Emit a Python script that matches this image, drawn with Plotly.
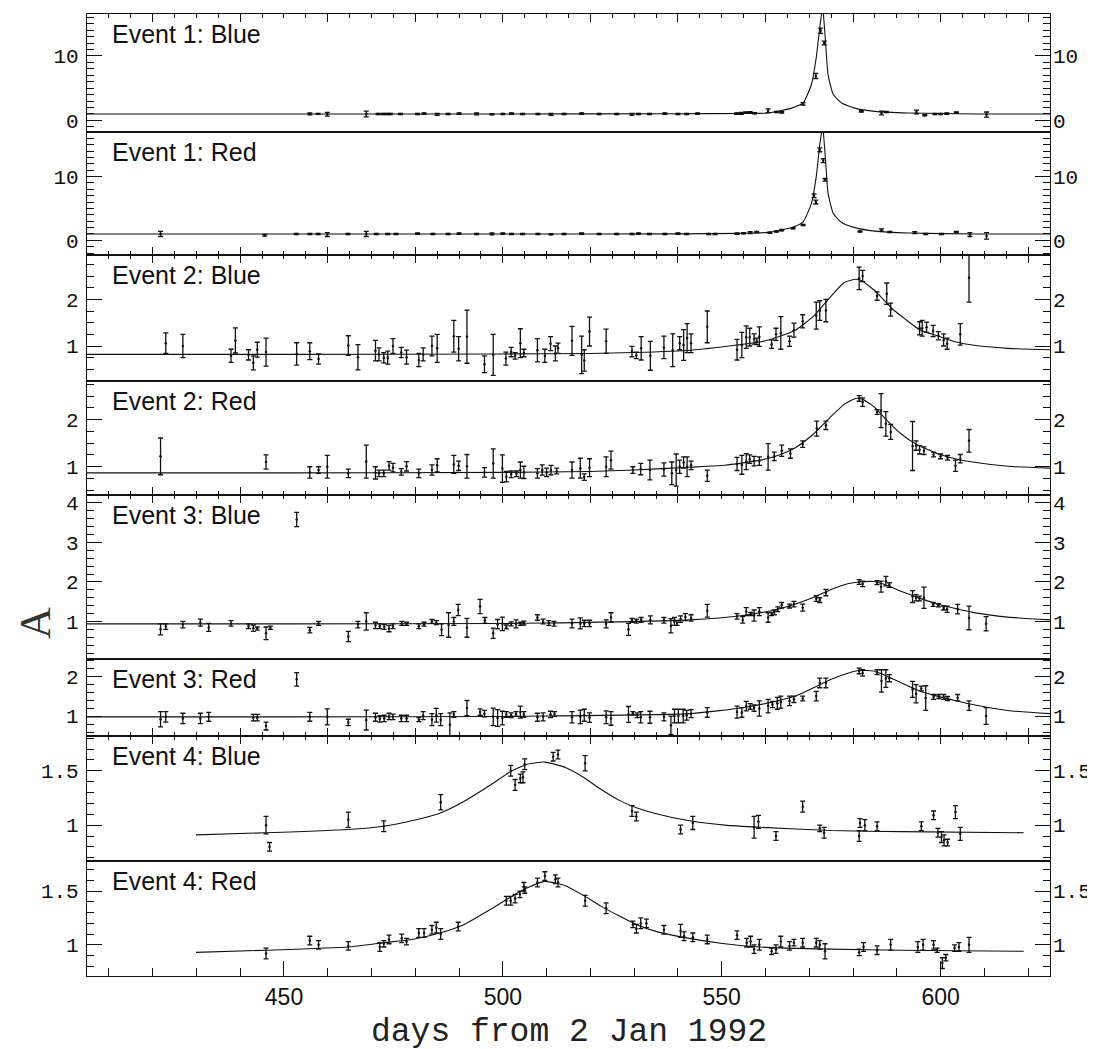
import plotly.graph_objects as go

# ---------------- data (days from 2 Jan 1992, magnification A, error) ----------------
e1b_day = [455.9, 457.8, 459.9, 468.8, 471.5, 472.6, 473.5, 474.3, 476.6, 480.5, 482.0, 485.0, 487.5,
           490.0, 494.0, 497.5, 500.0, 502.0, 504.5, 508.0, 511.0, 514.0, 518.0, 522.0, 526.0, 529.5,
           531.0, 533.5, 537.0, 540.0, 542.0, 544.5, 553.4, 554.5, 555.5, 556.5, 557.5, 560.6, 562.5,
           563.7, 568.6, 571.5, 572.6, 573.4, 581.9, 586.5, 587.6, 594.5, 596.4, 598.7, 600.0, 601.4,
           603.6, 610.5]
e1b_A = [1.0, 1.0, 0.95, 1.0, 1.0, 1.0, 1.0, 1.0, 1.0, 1.0, 1.05, 0.95, 1.0,
         1.05, 1.0, 0.95, 1.0, 1.05, 1.0, 1.0, 0.95, 1.0, 1.05, 1.0, 1.0, 0.95,
         1.0, 1.0, 1.05, 1.0, 1.0, 1.05, 1.05, 1.1, 1.2, 1.25, 1.1, 1.5, 1.3,
         1.25, 2.56, 6.9, 13.9, 12.0, 1.4, 1.15, 1.3, 1.3, 0.8, 1.0, 1.0, 1.05,
         1.2, 0.9]
e1b_err = [0.15, 0.08, 0.3, 0.45, 0.1, 0.1, 0.1, 0.1, 0.1, 0.1, 0.1, 0.15, 0.1,
           0.1, 0.15, 0.1, 0.1, 0.1, 0.1, 0.1, 0.15, 0.1, 0.1, 0.1, 0.1, 0.15,
           0.1, 0.1, 0.1, 0.1, 0.1, 0.1, 0.1, 0.15, 0.1, 0.1, 0.1, 0.3, 0.1,
           0.1, 0.2, 0.4, 0.4, 0.3, 0.1, 0.3, 0.1, 0.3, 0.1, 0.1, 0.1, 0.1,
           0.1, 0.4]
e1b_mx = [405, 500, 540, 555, 560.6, 566, 568.6, 570.5, 571.6, 572.4, 572.8, 573.0, 573.2, 573.7,
          574.3, 575.5, 577.4, 580.4, 585, 592.6, 607.8, 625]
e1b_my = [1.0, 1.0, 1.02, 1.08, 1.15, 1.9, 2.7, 5.6, 9.75, 14.4, 16.5, 18.5, 16.8, 12.4,
          7.1, 4.0, 2.7, 1.9, 1.4, 1.15, 1.0, 1.0]

e1r_day = [421.8, 445.6, 452.8, 455.9, 457.8, 459.9, 464.6, 468.8, 471.1, 473.7, 475.6, 480.5,
           484.0, 487.5, 490.0, 494.0, 497.5, 500.0, 502.0, 504.5, 508.0, 511.0, 514.0, 518.0,
           522.0, 526.0, 529.5, 531.0, 533.5, 537.0, 540.0, 542.0, 547.0, 548.5, 553.5, 555.0,
           556.5, 558.0, 561.0, 562.5, 563.7, 566.3, 568.6, 571.1, 571.5, 572.4, 573.2, 573.6,
           581.6, 586.5, 588.4, 594.1, 596.6, 600.2, 603.6, 606.7, 610.5]
e1r_A = [1.0, 0.8, 1.0, 1.0, 1.0, 0.9, 1.0, 1.0, 1.0, 1.0, 1.0, 1.05,
         1.0, 1.0, 1.05, 1.0, 1.0, 1.05, 1.0, 1.0, 1.0, 0.95, 1.0, 1.05,
         1.0, 1.0, 1.0, 1.05, 1.0, 1.0, 1.05, 1.0, 1.0, 1.0, 1.05, 1.1,
         1.2, 1.3, 1.2, 1.4, 1.6, 1.9, 2.4, 7.0, 6.0, 14.2, 12.5, 9.5,
         1.4, 1.6, 1.3, 1.2, 1.0, 1.0, 1.3, 0.9, 0.7]
e1r_err = [0.4, 0.15, 0.1, 0.1, 0.1, 0.3, 0.1, 0.4, 0.1, 0.1, 0.1, 0.1,
           0.1, 0.1, 0.1, 0.1, 0.15, 0.1, 0.1, 0.1, 0.1, 0.1, 0.1, 0.1,
           0.1, 0.1, 0.1, 0.1, 0.1, 0.1, 0.1, 0.1, 0.1, 0.1, 0.1, 0.1,
           0.15, 0.1, 0.1, 0.1, 0.1, 0.1, 0.1, 0.3, 0.3, 0.3, 0.3, 0.2,
           0.1, 0.2, 0.1, 0.15, 0.1, 0.1, 0.1, 0.3, 0.5]
e1r_mx = [405, 500, 540, 555, 560.6, 566, 568.6, 570.5, 571.6, 572.4, 572.8, 573.0, 573.2, 573.7,
          574.3, 575.5, 577.4, 580.4, 585, 592.6, 607.8, 625]
e1r_my = [1.0, 1.0, 1.02, 1.1, 1.25, 2.0, 2.9, 5.8, 10.0, 15.0, 17.0, 19.0, 17.2, 12.8,
          7.4, 4.2, 2.8, 2.0, 1.45, 1.15, 1.0, 1.0]

e2b_day = [423.0, 426.9, 437.9, 438.9, 441.9, 443.0, 443.9, 445.9, 452.9, 455.9, 457.9, 464.7, 466.9,
           470.9, 471.7, 472.8, 473.7, 474.9, 476.8, 478.0, 480.8, 481.8, 483.8, 485.0, 488.8, 489.9,
           491.8, 495.8, 497.8, 500.7, 501.9, 502.8, 504.0, 504.8, 507.9, 509.6, 510.9, 512.0, 512.6,
           515.8, 518.0, 518.6, 519.8, 523.6, 529.5, 530.5, 531.6, 533.7, 536.8, 538.8, 540.4, 541.3,
           542.1, 543.0, 546.7, 553.5, 554.6, 555.6, 556.4, 557.4, 558.0, 558.6, 561.4, 562.4, 563.5,
           565.5, 566.5, 568.5, 571.6, 572.4, 573.8, 581.4, 582.2, 585.5, 587.7, 588.6, 595.2, 595.8,
           596.8, 598.3, 599.5, 600.7, 601.5, 604.5, 606.5]
e2b_A = [1.06, 1.0, 0.79, 1.12, 0.81, 0.64, 0.92, 0.87, 0.83, 0.89, 0.72, 1.01, 0.76,
         0.9, 0.82, 0.75, 0.75, 1.0, 0.86, 0.76, 0.7, 0.82, 1.0, 0.95, 1.21, 0.94,
         1.2, 0.61, 0.81, 0.73, 0.87, 0.79, 1.06, 0.85, 0.91, 0.79, 1.05, 0.84, 0.95,
         1.11, 0.81, 0.69, 1.31, 1.1, 0.88, 0.8, 0.95, 0.79, 0.97, 0.91, 1.06, 1.02,
         1.17, 1.06, 1.41, 0.92, 1.02, 1.19, 1.19, 1.15, 1.1, 1.2, 1.04, 1.25, 1.28,
         1.1, 1.34, 1.53, 1.65, 1.76, 1.76, 2.45, 2.5, 2.07, 2.12, 1.78, 1.38, 1.38,
         1.4, 1.32, 1.22, 1.13, 1.05, 1.25, 2.46]
e2b_err = [0.22, 0.25, 0.14, 0.27, 0.11, 0.15, 0.16, 0.3, 0.24, 0.18, 0.11, 0.21, 0.27,
           0.22, 0.14, 0.11, 0.14, 0.16, 0.11, 0.15, 0.14, 0.14, 0.21, 0.3, 0.34, 0.26,
           0.57, 0.18, 0.44, 0.14, 0.1, 0.07, 0.31, 0.08, 0.25, 0.14, 0.15, 0.16, 0.11,
           0.31, 0.4, 0.23, 0.31, 0.26, 0.11, 0.07, 0.25, 0.31, 0.24, 0.35, 0.14, 0.33,
           0.31, 0.2, 0.34, 0.22, 0.27, 0.24, 0.19, 0.11, 0.07, 0.21, 0.09, 0.13, 0.35,
           0.11, 0.15, 0.14, 0.29, 0.21, 0.24, 0.24, 0.12, 0.09, 0.23, 0.14, 0.14, 0.17,
           0.11, 0.12, 0.09, 0.13, 0.12, 0.23, 0.52]
e2b_mx = [405, 450, 500, 520, 530, 543, 553.5, 559, 563, 567, 571, 575, 578, 580.6, 582, 585.5,
          588.7, 592, 595.2, 599.2, 603.3, 607.3, 615.4, 625]
e2b_my = [0.82, 0.82, 0.83, 0.84, 0.86, 0.91, 1.02, 1.09, 1.2, 1.35, 1.64, 2.07, 2.36, 2.43, 2.4,
          2.14, 1.82, 1.57, 1.35, 1.22, 1.09, 1.02, 0.95, 0.92]

e2r_day = [421.8, 445.9, 455.9, 457.9, 459.9, 464.7, 468.8, 470.9, 471.7, 472.8, 474.0, 474.9, 476.8,
           478.0, 480.8, 483.8, 485.0, 488.8, 489.9, 491.8, 495.8, 497.8, 499.9, 500.8, 501.9, 503.1,
           504.0, 504.8, 507.9, 509.0, 510.0, 511.0, 512.3, 515.8, 517.7, 518.6, 519.8, 523.6, 524.7,
           529.7, 531.5, 533.6, 536.8, 538.6, 539.6, 540.4, 541.3, 542.1, 543.0, 546.7, 553.5, 554.6,
           555.6, 556.4, 557.4, 558.6, 560.6, 562.0, 563.7, 565.7, 568.5, 571.7, 573.8, 581.4, 582.2,
           585.5, 586.4, 587.5, 588.6, 593.6, 594.4, 595.2, 596.2, 598.4, 600.0, 601.6, 603.4, 604.5,
           606.5]
e2r_A = [1.22, 1.1, 0.88, 0.93, 1.0, 0.86, 1.11, 0.87, 0.86, 0.86, 1.02, 0.98, 0.89,
         1.01, 0.86, 0.93, 1.03, 1.05, 1.02, 1.01, 0.88, 1.07, 0.96, 0.79, 0.84, 0.85,
         0.93, 0.88, 0.86, 0.93, 0.88, 0.93, 0.91, 0.93, 0.97, 0.78, 0.98, 1.0, 1.14,
         0.93, 0.95, 0.93, 0.94, 0.86, 0.93, 1.0, 1.09, 1.0, 1.03, 0.81, 1.06, 1.04,
         1.11, 1.16, 1.12, 1.12, 1.21, 1.22, 1.34, 1.28, 1.48, 1.81, 1.88, 2.45, 2.37,
         2.16, 2.19, 1.91, 1.74, 1.44, 1.45, 1.36, 1.34, 1.26, 1.22, 1.19, 1.02, 1.17,
         1.55]
e2r_err = [0.39, 0.15, 0.12, 0.07, 0.24, 0.09, 0.35, 0.13, 0.07, 0.07, 0.09, 0.09, 0.07,
           0.1, 0.09, 0.11, 0.14, 0.19, 0.1, 0.25, 0.1, 0.31, 0.29, 0.11, 0.07, 0.06,
           0.17, 0.13, 0.1, 0.11, 0.09, 0.1, 0.06, 0.17, 0.21, 0.07, 0.19, 0.21, 0.19,
           0.07, 0.12, 0.21, 0.14, 0.24, 0.34, 0.14, 0.12, 0.21, 0.09, 0.12, 0.14, 0.2,
           0.17, 0.09, 0.1, 0.09, 0.28, 0.09, 0.12, 0.1, 0.07, 0.16, 0.09, 0.06, 0.09,
           0.05, 0.36, 0.26, 0.16, 0.52, 0.1, 0.09, 0.08, 0.05, 0.05, 0.05, 0.12, 0.09,
           0.24]
e2r_mx = [405, 450, 500, 520, 530, 542.6, 550.7, 558.8, 562.8, 566.9, 570.9, 575, 578.2, 580.6,
          582.2, 584.7, 587.9, 591.1, 594.4, 599.2, 603.3, 607.3, 615.4, 625]
e2r_my = [0.87, 0.87, 0.88, 0.9, 0.93, 0.99, 1.03, 1.14, 1.24, 1.41, 1.69, 2.07, 2.34, 2.45,
          2.43, 2.28, 1.97, 1.69, 1.48, 1.28, 1.17, 1.1, 1.01, 0.97]

e3b_day = [421.8, 423.0, 426.9, 430.9, 432.8, 437.9, 441.9, 443.0, 443.9, 445.9, 446.9, 452.9, 455.9,
           457.9, 464.7, 466.9, 468.8, 470.9, 471.9, 472.9, 474.0, 474.9, 476.9, 478.0, 480.8, 482.0,
           483.8, 484.8, 486.0, 487.6, 488.8, 489.8, 491.8, 494.8, 495.9, 497.8, 498.8, 499.9, 500.8,
           501.9, 503.0, 504.0, 504.8, 507.9, 509.2, 510.5, 511.7, 515.8, 517.7, 518.6, 519.8, 523.6,
           524.7, 528.7, 529.5, 530.5, 531.6, 533.7, 536.8, 538.4, 539.2, 539.8, 540.6, 541.7, 543.0,
           546.7, 553.5, 554.8, 555.6, 556.6, 557.4, 558.6, 560.6, 561.4, 562.0, 562.8, 563.7, 565.5,
           566.5, 568.5, 571.6, 572.4, 573.8, 581.4, 582.2, 585.5, 586.4, 587.5, 588.3, 593.6, 594.4,
           595.2, 596.2, 598.3, 599.5, 600.7, 601.5, 603.9, 606.5, 610.4]
e3b_A = [0.8, 0.87, 0.92, 0.97, 0.85, 0.95, 0.88, 0.83, 0.82, 0.7, 0.84, 3.58, 0.78,
         0.95, 0.62, 0.92, 1.0, 0.9, 0.88, 0.86, 0.82, 0.88, 0.95, 0.94, 0.88, 0.93,
         1.0, 0.97, 0.79, 0.91, 1.0, 1.29, 0.84, 1.38, 1.03, 0.7, 0.93, 0.94, 0.86,
         0.94, 0.94, 0.94, 0.96, 1.1, 1.0, 0.96, 0.94, 0.95, 0.95, 0.95, 0.95, 0.94,
         1.1, 0.8, 1.03, 1.01, 1.04, 1.04, 1.03, 0.89, 1.0, 0.96, 1.06, 1.11, 1.09,
         1.27, 1.13, 1.04, 1.25, 1.19, 1.15, 1.25, 1.1, 1.19, 1.23, 1.31, 1.41, 1.39,
         1.44, 1.35, 1.58, 1.54, 1.73, 2.0, 1.95, 1.98, 1.88, 2.02, 1.92, 1.63, 1.6,
         1.58, 1.6, 1.43, 1.41, 1.34, 1.31, 1.31, 1.09, 0.94]
e3b_err = [0.14, 0.07, 0.08, 0.09, 0.1, 0.07, 0.06, 0.08, 0.04, 0.16, 0.04, 0.18, 0.07,
           0.05, 0.13, 0.08, 0.22, 0.08, 0.06, 0.06, 0.08, 0.06, 0.05, 0.04, 0.06, 0.05,
           0.05, 0.05, 0.15, 0.31, 0.1, 0.14, 0.24, 0.18, 0.07, 0.13, 0.12, 0.17, 0.05,
           0.05, 0.1, 0.04, 0.05, 0.07, 0.06, 0.06, 0.06, 0.11, 0.14, 0.08, 0.08, 0.1,
           0.12, 0.15, 0.05, 0.05, 0.06, 0.1, 0.07, 0.18, 0.1, 0.06, 0.08, 0.09, 0.08,
           0.16, 0.07, 0.08, 0.1, 0.04, 0.14, 0.1, 0.12, 0.04, 0.06, 0.06, 0.07, 0.05,
           0.07, 0.09, 0.07, 0.06, 0.08, 0.06, 0.07, 0.05, 0.14, 0.12, 0.06, 0.15, 0.08,
           0.06, 0.27, 0.05, 0.04, 0.05, 0.08, 0.12, 0.3, 0.18]
e3b_mx = [405, 450, 500, 510, 542.6, 554.8, 562.8, 566.9, 571, 575, 579, 581.4, 584.7, 587.1,
          591.1, 595.2, 599.2, 603.3, 607.3, 615.4, 625]
e3b_my = [0.94, 0.94, 0.95, 0.96, 1.04, 1.15, 1.31, 1.44, 1.61, 1.81, 1.96, 2.0, 2.01, 1.94,
          1.76, 1.59, 1.44, 1.33, 1.23, 1.11, 1.04]

e3r_day = [421.8, 423.0, 426.9, 430.9, 432.8, 443.0, 443.9, 445.9, 452.9, 455.9, 459.9, 464.7, 468.8,
           470.9, 471.9, 472.9, 474.0, 474.9, 476.8, 478.0, 480.8, 481.8, 483.8, 484.8, 485.8, 487.9,
           488.8, 491.8, 494.8, 495.8, 497.8, 498.8, 499.9, 500.8, 501.9, 503.0, 504.0, 504.8, 507.9,
           509.2, 510.9, 511.8, 515.8, 517.7, 518.6, 519.8, 523.6, 524.7, 528.7, 529.7, 530.7, 531.5,
           533.6, 536.8, 538.4, 539.2, 540.1, 541.2, 542.0, 543.0, 546.7, 553.5, 554.6, 555.6, 556.5,
           557.4, 558.6, 560.6, 561.6, 562.7, 563.5, 565.5, 566.5, 568.5, 571.6, 572.4, 573.8, 581.4,
           582.2, 585.5, 586.5, 587.5, 588.3, 593.6, 594.4, 595.6, 596.6, 598.4, 599.6, 600.7, 601.6,
           603.9, 606.5, 610.4]
e3r_A = [0.92, 0.98, 0.94, 0.94, 0.98, 0.96, 0.96, 0.75, 1.92, 0.98, 0.98, 0.84, 0.9,
         0.97, 0.93, 0.94, 0.99, 0.98, 0.94, 0.94, 0.91, 1.01, 0.91, 1.02, 0.91, 0.78,
         1.04, 1.2, 1.1, 1.06, 0.98, 0.95, 0.95, 1.04, 1.02, 1.05, 1.1, 1.04, 0.97,
         0.98, 1.04, 1.05, 0.97, 0.98, 1.02, 0.96, 0.97, 0.94, 1.04, 1.07, 1.02, 0.97,
         0.97, 0.98, 0.77, 1.0, 1.0, 1.0, 1.02, 1.06, 1.09, 1.1, 1.09, 1.25, 1.24,
         1.2, 1.19, 1.25, 1.29, 1.32, 1.35, 1.38, 1.42, 1.44, 1.5, 1.83, 1.83, 2.13,
         2.08, 2.1, 1.88, 1.94, 1.95, 1.67, 1.56, 1.69, 1.45, 1.48, 1.49, 1.48, 1.44,
         1.46, 1.26, 1.0]
e3r_err = [0.19, 0.13, 0.13, 0.13, 0.11, 0.08, 0.08, 0.1, 0.17, 0.11, 0.2, 0.08, 0.25,
           0.1, 0.08, 0.08, 0.08, 0.07, 0.08, 0.08, 0.05, 0.1, 0.15, 0.17, 0.15, 0.3,
           0.07, 0.19, 0.08, 0.08, 0.22, 0.21, 0.17, 0.07, 0.06, 0.06, 0.15, 0.07, 0.1,
           0.1, 0.08, 0.06, 0.14, 0.17, 0.15, 0.12, 0.16, 0.17, 0.2, 0.04, 0.06, 0.14,
           0.15, 0.1, 0.23, 0.17, 0.17, 0.17, 0.12, 0.1, 0.12, 0.15, 0.12, 0.12, 0.07,
           0.08, 0.19, 0.17, 0.08, 0.15, 0.15, 0.12, 0.08, 0.06, 0.12, 0.12, 0.12, 0.07,
           0.08, 0.06, 0.28, 0.22, 0.09, 0.2, 0.23, 0.06, 0.31, 0.06, 0.05, 0.06, 0.05,
           0.08, 0.12, 0.21]
e3r_mx = [405, 450, 500, 510, 542.6, 554.8, 562.8, 566.9, 571, 575, 579, 581.4, 584.7, 587.1,
          591.1, 595.2, 599.2, 603.3, 607.3, 615.4, 625]
e3r_my = [0.98, 0.98, 0.99, 1.0, 1.06, 1.21, 1.38, 1.5, 1.71, 1.92, 2.08, 2.14, 2.13, 2.03,
          1.83, 1.63, 1.5, 1.39, 1.29, 1.14, 1.06]

e4b_day = [445.9, 446.7, 464.7, 472.8, 485.8, 501.8, 502.8, 504.0, 504.6, 505.0, 511.5, 512.6, 518.8,
           529.5, 530.5, 540.6, 543.4, 557.4, 558.4, 562.4, 568.5, 572.4, 573.4, 581.4, 581.6, 582.7,
           585.5, 595.6, 598.4, 599.4, 600.2, 600.8, 601.6, 603.4, 604.5]
e4b_A = [1.0, 0.8, 1.05, 0.99, 1.21, 1.5, 1.37, 1.43, 1.44, 1.56, 1.63, 1.65, 1.57,
         1.13, 1.08, 0.96, 1.02, 0.98, 1.03, 0.9, 1.17, 0.97, 0.93, 0.9, 1.02, 1.0,
         0.99, 0.99, 1.09, 0.93, 0.89, 0.86, 0.84, 1.12, 0.92]
e4b_err = [0.08, 0.04, 0.07, 0.05, 0.07, 0.05, 0.05, 0.04, 0.05, 0.05, 0.04, 0.04, 0.07,
           0.05, 0.04, 0.04, 0.06, 0.1, 0.06, 0.04, 0.05, 0.03, 0.05, 0.05, 0.04, 0.05,
           0.04, 0.04, 0.04, 0.04, 0.05, 0.05, 0.03, 0.06, 0.06]
e4b_mx = [429.9, 445.9, 464.7, 472.8, 479.2, 485.6, 491.2, 497.6, 501.6, 505.6, 509.6, 514.3,
          518.4, 522.4, 526.5, 530.5, 534.6, 542.6, 550.7, 558.8, 575, 591.1, 619]
e4b_my = [0.91, 0.93, 0.96, 0.99, 1.04, 1.11, 1.22, 1.38, 1.49, 1.56, 1.58, 1.53,
          1.44, 1.33, 1.23, 1.16, 1.11, 1.04, 1.0, 0.98, 0.95, 0.94, 0.93]

e4r_day = [445.9, 455.9, 457.9, 464.7, 471.9, 472.8, 474.0, 476.9, 478.0, 480.8, 482.0, 483.8, 484.8,
           485.8, 489.8, 500.8, 501.8, 502.8, 503.9, 504.8, 505.0, 507.9, 509.6, 512.0, 512.6, 518.8,
           523.6, 529.7, 530.5, 531.5, 532.8, 536.8, 540.6, 541.4, 543.4, 546.7, 553.5, 555.7, 556.6,
           557.4, 558.6, 561.4, 562.4, 563.5, 565.5, 566.5, 568.5, 571.6, 572.4, 573.6, 581.4, 582.4,
           585.5, 588.6, 594.8, 596.0, 598.4, 599.2, 600.4, 601.2, 603.2, 604.2, 606.5]
e4r_A = [0.92, 1.04, 1.0, 0.99, 0.98, 1.01, 1.05, 1.06, 1.03, 1.11, 1.11, 1.14, 1.16,
         1.1, 1.17, 1.41, 1.41, 1.43, 1.47, 1.54, 1.51, 1.58, 1.64, 1.61, 1.58, 1.41,
         1.34, 1.19, 1.15, 1.2, 1.2, 1.14, 1.13, 1.08, 1.07, 1.05, 1.09, 1.02, 1.03,
         0.96, 1.0, 0.94, 0.96, 1.03, 0.99, 1.02, 1.02, 1.02, 1.0, 0.94, 0.93, 0.98,
         0.95, 1.0, 0.98, 1.0, 1.0, 0.95, 0.83, 0.88, 0.97, 0.98, 1.0]
e4r_err = [0.05, 0.04, 0.04, 0.04, 0.04, 0.03, 0.04, 0.04, 0.03, 0.04, 0.04, 0.04, 0.05,
           0.05, 0.04, 0.04, 0.04, 0.04, 0.03, 0.04, 0.03, 0.04, 0.04, 0.04, 0.04, 0.05,
           0.05, 0.03, 0.04, 0.05, 0.04, 0.04, 0.06, 0.04, 0.04, 0.04, 0.04, 0.04, 0.05,
           0.04, 0.05, 0.03, 0.04, 0.05, 0.04, 0.03, 0.04, 0.04, 0.04, 0.07, 0.03, 0.04,
           0.04, 0.05, 0.05, 0.05, 0.04, 0.02, 0.05, 0.03, 0.03, 0.04, 0.07]
e4r_mx = [429.9, 445.9, 464.7, 472.8, 479.2, 485.6, 491.2, 497.6, 501.6, 505.6, 509.6, 514.3,
          518.4, 522.4, 526.5, 530.5, 534.6, 542.6, 550.7, 558.8, 575, 591.1, 619]
e4r_my = [0.93, 0.95, 0.98, 1.02, 1.05, 1.11, 1.19, 1.34, 1.44, 1.53, 1.59, 1.55,
          1.46, 1.36, 1.27, 1.19, 1.13, 1.06, 1.01, 0.98, 0.96, 0.95, 0.94]

panel_labels = ["Event 1: Blue", "Event 1: Red", "Event 2: Blue", "Event 2: Red",
                "Event 3: Blue", "Event 3: Red", "Event 4: Blue", "Event 4: Red"]
y_ranges = [[-1.8, 16.5], [-2.3, 17.0], [0.25, 2.95], [0.4, 2.82],
            [0.05, 4.2], [0.5, 2.43], [0.67, 1.82], [0.71, 1.78]]
y_major = [10, 10, 1, 1, 1, 1, 0.5, 0.5]
y_minor = [1, 1, 0.25, 0.25, 0.2, 0.2, 0.1, 0.1]
x_range = [405, 625]

series = [
    (e1b_day, e1b_A, e1b_err, e1b_mx, e1b_my),
    (e1r_day, e1r_A, e1r_err, e1r_mx, e1r_my),
    (e2b_day, e2b_A, e2b_err, e2b_mx, e2b_my),
    (e2r_day, e2r_A, e2r_err, e2r_mx, e2r_my),
    (e3b_day, e3b_A, e3b_err, e3b_mx, e3b_my),
    (e3r_day, e3r_A, e3r_err, e3r_mx, e3r_my),
    (e4b_day, e4b_A, e4b_err, e4b_mx, e4b_my),
    (e4r_day, e4r_A, e4r_err, e4r_mx, e4r_my),
]

# ---------------- layout geometry ----------------
W, H = 1095, 1049
ML, MR, MT, MB = 79, 53, 6, 81
panel_top_px = [6, 124, 247, 373, 487, 651, 728, 853]
panel_bot_px = [124, 247, 373, 487, 651, 728, 853, 968]


def frac(px):
    return (H - MB - px) / (H - MT - MB)


fig = go.Figure()
INK = "#111111"
num_font = dict(family="Liberation Mono, Courier New, monospace", size=21, color=INK)

layout = dict(
    width=W, height=H,
    margin=dict(l=ML, r=MR, t=MT, b=MB, pad=0, autoexpand=False),
    paper_bgcolor="white", plot_bgcolor="white",
    showlegend=False,
)

annotations = []
for i, (dx, dy, de, mx, my) in enumerate(series):
    n = i + 1
    xa = "x" if n == 1 else f"x{n}"
    ya = "y" if n == 1 else f"y{n}"
    fig.add_trace(go.Scatter(
        x=mx, y=my, mode="lines", xaxis=xa, yaxis=ya,
        line=dict(color=INK, width=1.1, shape="spline", smoothing=0.5),
        hoverinfo="skip"))
    fig.add_trace(go.Scatter(
        x=dx, y=dy, mode="markers", xaxis=xa, yaxis=ya,
        marker=dict(size=2.5, color=INK),
        error_y=dict(type="data", array=de, visible=True, color=INK,
                     thickness=1.3, width=2.5)))
    # invisible trace for right-hand y axis
    fig.add_trace(go.Scatter(x=[x_range[0]], y=[y_ranges[i][0]], mode="markers",
                             marker=dict(size=1, opacity=0), xaxis=xa,
                             yaxis=f"y{n + 8}", hoverinfo="skip"))

    dom = [frac(panel_bot_px[i]), frac(panel_top_px[i])]
    is_blue = (i % 2 == 0)
    is_bottom = (i == 7)
    xkey = "xaxis" if n == 1 else f"xaxis{n}"
    ykey = "yaxis" if n == 1 else f"yaxis{n}"
    xdict = dict(
        domain=[0, 1], range=x_range, anchor=ya, automargin=False,
        showline=True, linecolor=INK, linewidth=1.2, mirror=True,
        showgrid=False, zeroline=False,
        side="top" if is_blue else "bottom",
        ticks="inside", tickcolor=INK, tickwidth=1,
        tickmode="linear", tick0=0,
        dtick=50 if is_bottom else 20,
        ticklen=15 if is_bottom else 8,
        minor=dict(ticks="inside", tickmode="linear", tick0=0,
                   dtick=10 if is_bottom else 5,
                   ticklen=8 if is_bottom else 4, tickcolor=INK, tickwidth=1),
        showticklabels=is_bottom,
        tickfont=dict(family="Liberation Sans, Arial, sans-serif", size=23, color=INK),
        ticklabelstandoff=0,
    )
    if n != 8:
        xdict["matches"] = "x8"
    layout[xkey] = xdict
    ydict = dict(
        domain=dom, range=y_ranges[i], anchor=xa, automargin=False,
        showline=True, linecolor=INK, linewidth=1.2, mirror=True,
        showgrid=False, zeroline=False,
        ticks="inside", tickcolor=INK, tickwidth=1, ticklen=15,
        tickmode="linear", tick0=0, dtick=y_major[i],
        minor=dict(ticks="inside", tickmode="linear", tick0=0, dtick=y_minor[i],
                   ticklen=7, tickcolor=INK, tickwidth=1),
        tickfont=num_font, ticklabelstandoff=3,
    )
    layout[ykey] = ydict
    layout[f"yaxis{n + 8}"] = dict(
        overlaying=ya, side="right", anchor=xa, range=y_ranges[i], automargin=False,
        showline=False, showgrid=False, zeroline=False,
        ticks="inside", tickcolor=INK, tickwidth=1, ticklen=15,
        tickmode="linear", tick0=0, dtick=y_major[i],
        minor=dict(ticks="inside", tickmode="linear", tick0=0, dtick=y_minor[i],
                   ticklen=7, tickcolor=INK, tickwidth=1),
        tickfont=num_font, ticklabelstandoff=2,
    )
    annotations.append(dict(
        text=panel_labels[i], xref="paper", yref="paper",
        x=(102 - ML) / (W - ML - MR), y=frac(panel_top_px[i]),
        xanchor="left", yanchor="top", yshift=-4, showarrow=False,
        font=dict(family="Liberation Sans, Arial, sans-serif", size=25, color=INK)))

# axis titles
annotations.append(dict(
    text="days from 2 Jan 1992", xref="paper", yref="paper",
    x=0.5, y=frac(1024), xanchor="center", yanchor="middle", showarrow=False,
    font=dict(family="Liberation Mono, Courier New, monospace", size=33, color="#222222")))
annotations.append(dict(
    text="A", xref="paper", yref="paper",
    x=(27 - ML) / (W - ML - MR), y=frac(615), xanchor="center", yanchor="middle",
    textangle=-90, showarrow=False,
    font=dict(family="Liberation Serif, serif", size=44, color="#333333")))

layout["annotations"] = annotations
fig.update_layout(**layout)
fig.write_html("out.html")
